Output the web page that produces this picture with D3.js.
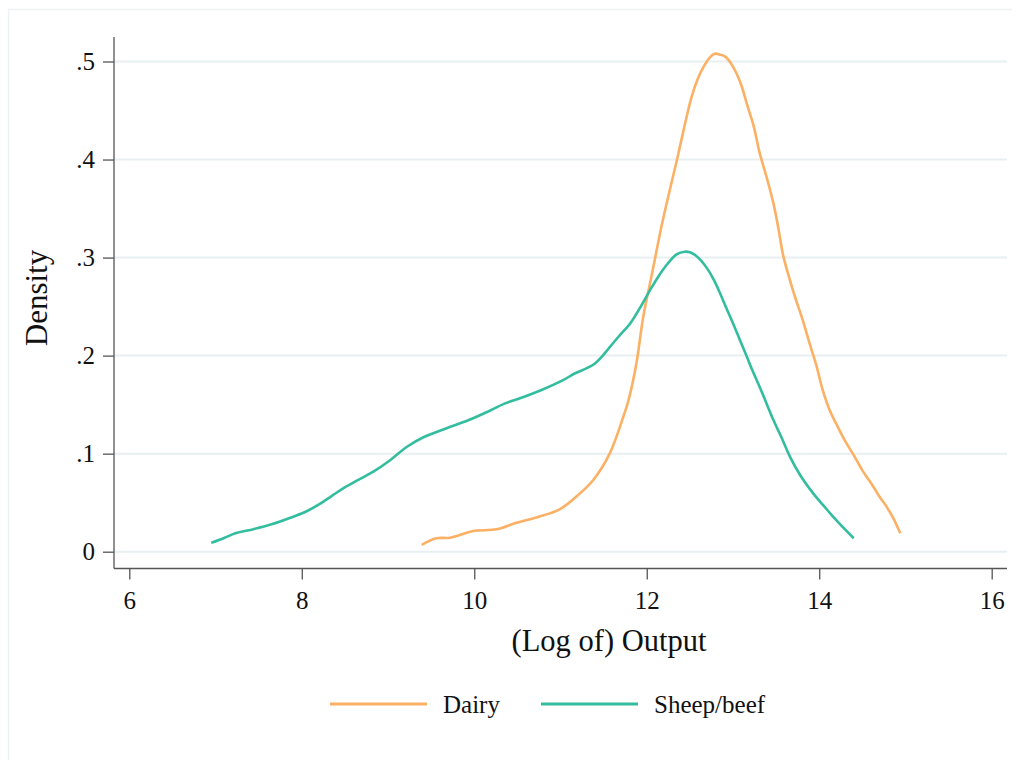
<!DOCTYPE html>
<html>
<head>
<meta charset="utf-8">
<script src="https://cdn.jsdelivr.net/npm/d3@7"></script>
<style>
  html, body { margin: 0; padding: 0; background: #ffffff; }
  svg { display: block; font-family: "Liberation Serif", "DejaVu Serif", serif; }
</style>
</head>
<body>
<svg id="chart" width="1022" height="760"></svg>
<script>
// ---- data ----
const seriesNames = ["Dairy", "Sheep/beef"];
const xTicks = [6, 8, 10, 12, 14, 16];
const yTicks = [0, 0.1, 0.2, 0.3, 0.4, 0.5];
const yTickLabels = ["0", ".1", ".2", ".3", ".4", ".5"];

const dairyX = [9.39, 9.56, 9.72, 9.99, 10.26, 10.49, 10.72, 10.99, 11.22, 11.38, 11.57, 11.73, 11.79, 11.88, 11.96, 12.06, 12.17, 12.27, 12.35, 12.44, 12.52, 12.59, 12.66, 12.73, 12.79, 12.85, 12.91, 12.97, 13.04, 13.10, 13.16, 13.24, 13.31, 13.39, 13.47, 13.53, 13.58, 13.66, 13.73, 13.81, 13.89, 13.97, 14.04, 14.12, 14.20, 14.30, 14.39, 14.50, 14.63, 14.70, 14.78, 14.86, 14.94];
const dairyY = [0.007, 0.0137, 0.0143, 0.0211, 0.0228, 0.0296, 0.035, 0.0432, 0.059, 0.0731, 0.100, 0.138, 0.155, 0.192, 0.240, 0.283, 0.3315, 0.370, 0.3995, 0.435, 0.464, 0.482, 0.4947, 0.504, 0.508, 0.507, 0.505, 0.499, 0.488, 0.475, 0.457, 0.434, 0.4065, 0.382, 0.355, 0.328, 0.303, 0.277, 0.257, 0.236, 0.212, 0.189, 0.165, 0.1445, 0.130, 0.113, 0.100, 0.083, 0.066, 0.056, 0.046, 0.034, 0.0188];

const sheepX = [6.95, 7.10, 7.23, 7.44, 7.65, 7.90, 8.05, 8.21, 8.35, 8.48, 8.65, 8.83, 9.02, 9.22, 9.41, 9.68, 9.93, 10.18, 10.35, 10.53, 10.78, 11.03, 11.17, 11.30, 11.40, 11.48, 11.56, 11.68, 11.81, 11.93, 12.04, 12.13, 12.23, 12.35, 12.44, 12.50, 12.56, 12.63, 12.70, 12.78, 12.85, 12.92, 13.00, 13.08, 13.16, 13.23, 13.31, 13.39, 13.47, 13.56, 13.66, 13.78, 13.93, 14.05, 14.16, 14.28, 14.40];
const sheepY = [0.009, 0.014, 0.0188, 0.023, 0.028, 0.0357, 0.041, 0.0487, 0.057, 0.0646, 0.073, 0.0816, 0.093, 0.107, 0.1167, 0.1259, 0.134, 0.1438, 0.151, 0.1565, 0.165, 0.175, 0.182, 0.187, 0.192, 0.199, 0.2075, 0.220, 0.233, 0.250, 0.267, 0.280, 0.2924, 0.3036, 0.306, 0.3055, 0.3026, 0.297, 0.289, 0.277, 0.2636, 0.249, 0.233, 0.216, 0.199, 0.184, 0.168, 0.151, 0.134, 0.117, 0.097, 0.078, 0.0595, 0.047, 0.0357, 0.0245, 0.0137];

const colors = ["#fbb064", "#33bd9f"];

// ---- layout ----
const svg = d3.select("#chart");
const x = d3.scaleLinear().domain([6, 16]).range([129.3, 991.7]);
const y = d3.scaleLinear().domain([0, 0.5]).range([551.7, 61.5]);
const plotLeft = 114, plotRight = 1007, plotTop = 37, plotBottom = 568.5;

// outer frame (light)
svg.append("line").attr("x1", 8).attr("x2", 1012).attr("y1", 9.5).attr("y2", 9.5)
  .attr("stroke", "#edf2f4").attr("stroke-width", 1.5);
svg.append("line").attr("x1", 8.5).attr("x2", 8.5).attr("y1", 9).attr("y2", 760)
  .attr("stroke", "#edf2f4").attr("stroke-width", 1.5);

// gridlines
svg.append("g").selectAll("line").data(yTicks).join("line")
  .attr("x1", plotLeft).attr("x2", plotRight)
  .attr("y1", d => y(d)).attr("y2", d => y(d))
  .attr("stroke", "#e7eff1").attr("stroke-width", 2);

// y axis
const yAxis = d3.axisLeft(y).tickValues(yTicks).tickSize(11).tickPadding(8)
  .tickFormat((d, i) => yTickLabels[i]);
const gy = svg.append("g").attr("transform", `translate(${plotLeft},0)`).call(yAxis);
gy.attr("font-size", 25).attr("font-family", "Liberation Serif, serif");
gy.select(".domain").remove();
gy.append("line").attr("x1", 0).attr("x2", 0).attr("y1", plotTop).attr("y2", plotBottom)
  .attr("stroke", "#555").attr("stroke-width", 1.3);
gy.selectAll(".tick line").attr("stroke", "#555").attr("stroke-width", 1.3);
gy.selectAll(".tick text").attr("fill", "#111");

// x axis
const xAxis = d3.axisBottom(x).tickValues(xTicks).tickSize(11).tickPadding(12)
  .tickFormat(d3.format("d"));
const gx = svg.append("g").attr("transform", `translate(0,${plotBottom})`).call(xAxis);
gx.attr("font-size", 25).attr("font-family", "Liberation Serif, serif");
gx.select(".domain").remove();
gx.append("line").attr("x1", plotLeft).attr("x2", plotRight).attr("y1", 0).attr("y2", 0)
  .attr("stroke", "#555").attr("stroke-width", 1.3);
gx.selectAll(".tick line").attr("stroke", "#555").attr("stroke-width", 1.3);
gx.selectAll(".tick text").attr("fill", "#111");

// axis titles
svg.append("text").attr("x", 609).attr("y", 651).attr("text-anchor", "middle")
  .attr("font-size", 30.5).attr("fill", "#111").text("(Log of) Output");
svg.append("text").attr("transform", "translate(47,298) rotate(-90)")
  .attr("text-anchor", "middle").attr("font-size", 31).attr("fill", "#111").text("Density");

// curves
const line = d3.line().x(d => x(d[0])).y(d => y(d[1])).curve(d3.curveCatmullRom.alpha(0.5));
const series = [d3.zip(dairyX, dairyY), d3.zip(sheepX, sheepY)];
svg.append("g").selectAll("path").data(series).join("path")
  .attr("d", line).attr("fill", "none")
  .attr("stroke", (d, i) => colors[i]).attr("stroke-width", 2.6)
  .attr("stroke-linejoin", "round");

// legend
const legendItems = [
  { x1: 330, x2: 427, tx: 443 },
  { x1: 541, x2: 638, tx: 654 }
];
const lg = svg.append("g");
legendItems.forEach((it, i) => {
  lg.append("line").attr("x1", it.x1).attr("x2", it.x2).attr("y1", 704).attr("y2", 704)
    .attr("stroke", colors[i]).attr("stroke-width", 3);
  lg.append("text").attr("x", it.tx).attr("y", 713).attr("font-size", 25)
    .attr("fill", "#111").text(seriesNames[i]);
});
</script>
</body>
</html>
